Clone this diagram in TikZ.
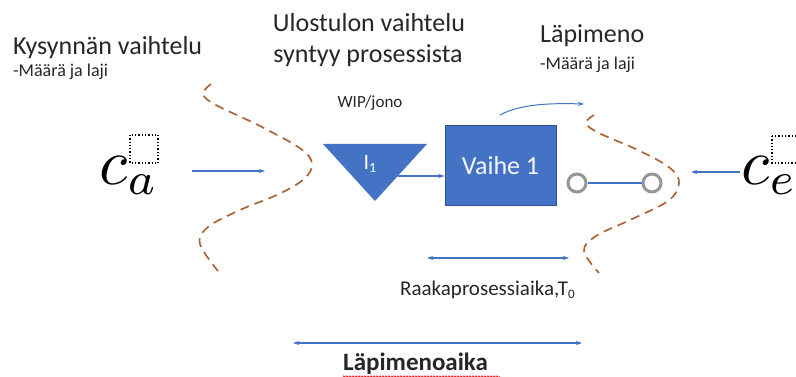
\documentclass[tikz,border=0pt]{standalone}
\usepackage{fontspec}
\setmainfont{Carlito}
\usetikzlibrary{arrows.meta,decorations.pathmorphing}
\definecolor{flowblue}{RGB}{68,114,196}
\definecolor{edgeblue}{RGB}{47,82,143}
\definecolor{wavebrown}{RGB}{170,100,55}
\definecolor{ringgray}{RGB}{150,150,150}
\newcommand{\fs}[1]{\fontsize{#1}{#1}\selectfont}
\tikzset{
  flow/.style={draw=flowblue, line width=1.1pt, -{Stealth[length=6pt,width=4pt]}},
  span/.style={draw=flowblue, line width=1.1pt, {Stealth[length=6pt,width=4pt]}-{Stealth[length=6pt,width=4pt]}},
  wave/.style={draw=wavebrown, line width=1.7pt, dash pattern=on 9pt off 6pt},
  ring/.style={circle, draw=ringgray, line width=3pt, fill=white, minimum size=18pt, inner sep=0pt},
  holder/.style={draw=black, line width=1.3pt, dotted},
  txt/.style={inner sep=0pt, text=black!85},
}
\begin{document}
\begin{tikzpicture}[x=1pt,y=-1pt]
\useasboundingbox (0,0) rectangle (796,377);

% headings
\node[txt, anchor=base west] (demand) at (13,55) {\fs{26}Kysynnän vaihtelu};
\node[txt, anchor=base west] (demandsub) at (13,77) {\fs{18}-Määrä ja laji};
\node[txt, anchor=base] (out1) at (369,32) {\fs{26}Ulostulon vaihtelu};
\node[txt, anchor=base] (out2) at (368,63) {\fs{26}syntyy prosessista};
\node[txt, anchor=base west] (thru) at (540,43) {\fs{26}Läpimeno};
\node[txt, anchor=base west] (thrusub) at (540,70) {\fs{18}-Määrä ja laji};
\node[txt, anchor=base] (wip) at (370,108) {\fs{17}WIP/jono};

% variability symbols
\node[inner sep=0pt, anchor=base west] (ca) at (99,185) {\scalebox{6.5}{$c_a$}};
\draw[holder] (130,135) rectangle (158,163);
\node[inner sep=0pt, anchor=base west] (ce) at (741,185) {\scalebox{6.5}{$c_e$}};
\draw[holder] (772,136) rectangle (800,163);

% dashed variability waves
\draw[wave] plot[smooth, tension=0.6] coordinates {(211,84) (203,94) (216,105) (260,126) (301,149) (312,164) (304,179) (279,194) (240,210) (208,227) (200,244) (218,271)};
\draw[wave] plot[smooth, tension=0.6] coordinates {(594,115) (586,123) (599,133) (640,151) (670,168) (679,183) (668,201) (630,220) (596,236) (584,251) (599,273)};

% queue and stage
\fill[flowblue] (323,144) -- (427,144) -- (375,201) -- cycle;
\node[inner sep=0pt, text=white, anchor=base] (queue) at (370,170) {\fs{22}I\raisebox{-3pt}{\fs{14}1}};
\node[rectangle, draw=edgeblue, line width=1pt, fill=flowblue, minimum width=111pt, minimum height=80pt, inner sep=0pt, anchor=north west, text=white!95!flowblue] (stage) at (444.5,125.5) {\fs{26}Vaihe 1};

% output rings
\node[ring] (r1) at (577,183) {};
\node[ring] (r2) at (652,183) {};
\draw[draw=flowblue, line width=1.1pt] (r1) -- (r2);

% arrows
\coordinate (caend) at (265,171);
\coordinate (castart) at (192,171);
\draw[flow] (castart) -- (caend);
\coordinate (qout) at (398,176);
\draw[flow] (qout) -- (stage.west |- qout);
\coordinate (cestart) at (740,172);
\coordinate (ceend) at (691,172);
\draw[flow] (cestart) -- (ceend);
\coordinate (topstart) at (500,115);
\coordinate (topend) at (584,104);
\draw[flow, line width=1pt] (topstart) .. controls (520,104) and (550,103) .. (topend);

% time spans
\coordinate (rawl) at (427,258);
\coordinate (rawr) at (569,258);
\draw[span] (rawl) -- (rawr);
\node[txt, anchor=base west] (raw) at (400,295) {\fs{21}Raakaprosessiaika,T\raisebox{-3pt}{\fs{13}0}};
\coordinate (leadl) at (293,343);
\coordinate (leadr) at (582,343);
\draw[span] (leadl) -- (leadr);
\node[txt, anchor=base west] (lead) at (343,370) {\fs{25}\bfseries Läpimenoaika};
\draw[red, line width=0.6pt, decorate, decoration={snake, segment length=3pt, amplitude=0.9pt}] (lead.south west) ++(0,2.5) -- ++(157,0);
\end{tikzpicture}
\end{document}
